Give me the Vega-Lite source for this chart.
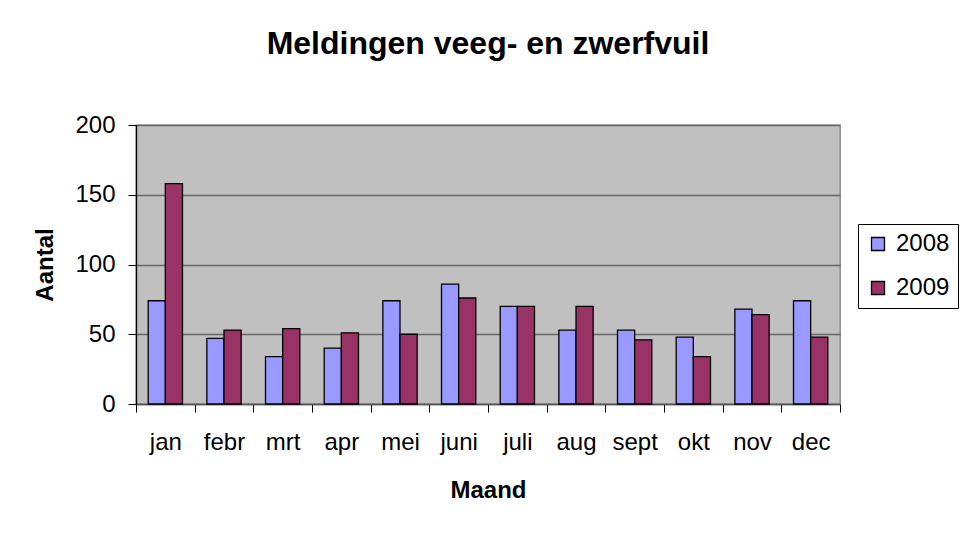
{
  "$schema": "https://vega.github.io/schema/vega-lite/v6.json",
  "autosize": {"type": "none"},
  "width": 704,
  "height": 279,
  "padding": {"left": 136, "top": 125, "right": 123, "bottom": 130},
  "background": "white",
  "title": {
    "text": "Meldingen veeg- en zwerfvuil",
    "font": "Liberation Sans",
    "fontSize": 32,
    "fontWeight": "bold",
    "color": "black",
    "anchor": "middle",
    "frame": "group",
    "baseline": "alphabetic",
    "offset": 27
  },
  "data": {
    "values": [
      {"maand": "jan", "jaar": "2008", "aantal": 74},
      {"maand": "jan", "jaar": "2009", "aantal": 158},
      {"maand": "febr", "jaar": "2008", "aantal": 47},
      {"maand": "febr", "jaar": "2009", "aantal": 53},
      {"maand": "mrt", "jaar": "2008", "aantal": 34},
      {"maand": "mrt", "jaar": "2009", "aantal": 54},
      {"maand": "apr", "jaar": "2008", "aantal": 40},
      {"maand": "apr", "jaar": "2009", "aantal": 51},
      {"maand": "mei", "jaar": "2008", "aantal": 74},
      {"maand": "mei", "jaar": "2009", "aantal": 50},
      {"maand": "juni", "jaar": "2008", "aantal": 86},
      {"maand": "juni", "jaar": "2009", "aantal": 76},
      {"maand": "juli", "jaar": "2008", "aantal": 70},
      {"maand": "juli", "jaar": "2009", "aantal": 70},
      {"maand": "aug", "jaar": "2008", "aantal": 53},
      {"maand": "aug", "jaar": "2009", "aantal": 70},
      {"maand": "sept", "jaar": "2008", "aantal": 53},
      {"maand": "sept", "jaar": "2009", "aantal": 46},
      {"maand": "okt", "jaar": "2008", "aantal": 48},
      {"maand": "okt", "jaar": "2009", "aantal": 34},
      {"maand": "nov", "jaar": "2008", "aantal": 68},
      {"maand": "nov", "jaar": "2009", "aantal": 64},
      {"maand": "dec", "jaar": "2008", "aantal": 74},
      {"maand": "dec", "jaar": "2009", "aantal": 48}
    ]
  },
  "mark": {"type": "bar", "stroke": "black", "strokeWidth": 1.3, "opacity": 1},
  "encoding": {
    "x": {
      "field": "maand",
      "type": "nominal",
      "sort": null,
      "scale": {"paddingInner": 0, "paddingOuter": 0},
      "axis": {
        "title": "Maand",
        "titleFont": "Liberation Sans",
        "titleFontSize": 24,
        "titleFontWeight": "bold",
        "titleColor": "black",
        "titleBaseline": "alphabetic",
        "titleY": 93,
        "labelFont": "Liberation Sans",
        "labelFontSize": 24,
        "labelColor": "black",
        "labelAngle": 0,
        "labelBaseline": "alphabetic",
        "labelPadding": 37,
        "tickBand": "extent",
        "tickSize": 8,
        "tickColor": "black",
        "domainColor": "#555555",
        "domainWidth": 1.3,
        "grid": false
      }
    },
    "xOffset": {
      "field": "jaar",
      "type": "nominal",
      "scale": {"paddingInner": 0, "paddingOuter": 0.71}
    },
    "y": {
      "field": "aantal",
      "type": "quantitative",
      "scale": {"domain": [0, 200], "nice": false},
      "axis": {
        "title": "Aantal",
        "titleFont": "Liberation Sans",
        "titleFontSize": 24,
        "titleFontWeight": "bold",
        "titleColor": "black",
        "titleAngle": -90,
        "titleBaseline": "middle",
        "titleAlign": "center",
        "titleX": -91,
        "titleY": 139.5,
        "values": [0, 50, 100, 150, 200],
        "labelFont": "Liberation Sans",
        "labelFontSize": 24,
        "labelColor": "black",
        "labelPadding": 13,
        "tickSize": 8,
        "tickColor": "black",
        "domainColor": "black",
        "domainWidth": 1.3,
        "grid": true,
        "gridColor": "#666666",
        "gridWidth": 1.3
      }
    },
    "color": {
      "field": "jaar",
      "type": "nominal",
      "scale": {"domain": ["2008", "2009"], "range": ["#9999FF", "#993366"]},
      "legend": {
        "title": null,
        "orient": "none",
        "legendX": 722,
        "legendY": 99,
        "symbolType": "square",
        "symbolSize": 169,
        "symbolStrokeColor": "black",
        "symbolStrokeWidth": 1.3,
        "symbolOpacity": 1,
        "labelFont": "Liberation Sans",
        "labelFontSize": 24,
        "labelColor": "black",
        "labelOffset": 6,
        "rowPadding": 20,
        "padding": 8,
        "strokeColor": "black",
        "fillColor": "white"
      }
    }
  },
  "config": {
    "view": {"fill": "#C0C0C0", "stroke": "#808080", "strokeWidth": 1.3}
  }
}
